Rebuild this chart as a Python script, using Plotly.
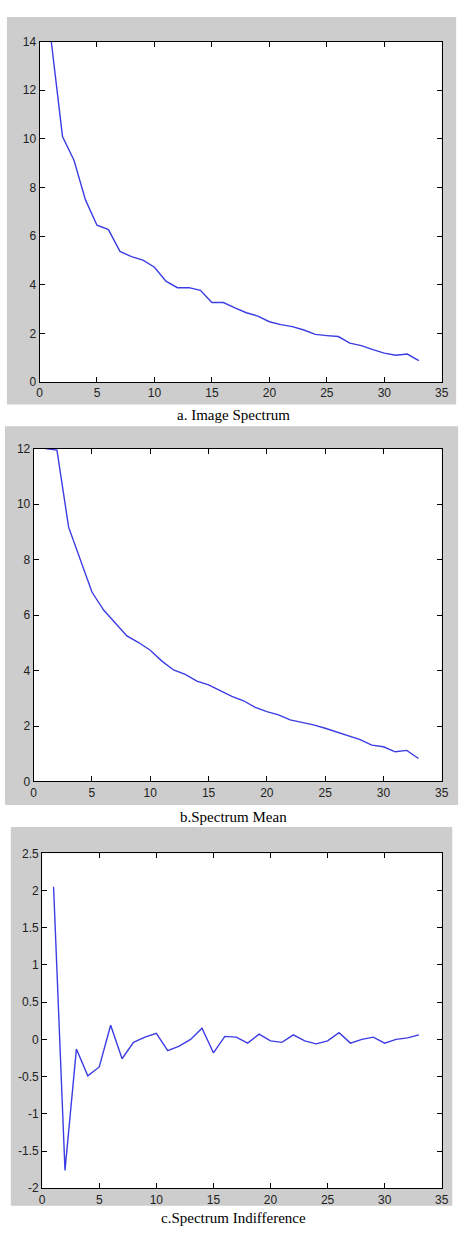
import plotly.graph_objects as go

# ---- data ----
x_idx = list(range(1, 34))

image_spectrum = [14.1, 10.1, 9.12, 7.49, 6.45, 6.27, 5.37, 5.16, 5.01, 4.72,
                  4.15, 3.88, 3.88, 3.77, 3.27, 3.27, 3.05, 2.85, 2.71, 2.48,
                  2.36, 2.28, 2.14, 1.96, 1.91, 1.87, 1.60, 1.50, 1.33, 1.19,
                  1.10, 1.15, 0.88]

spectrum_mean = [12.0, 11.95, 9.17, 7.96, 6.83, 6.18, 5.70, 5.25, 5.01, 4.73,
                 4.34, 4.02, 3.86, 3.62, 3.48, 3.27, 3.07, 2.91, 2.67, 2.52,
                 2.40, 2.22, 2.14, 2.04, 1.92, 1.78, 1.63, 1.51, 1.31, 1.25,
                 1.07, 1.12, 0.83]

spectrum_indiff = [2.05, -1.76, -0.13, -0.49, -0.37, 0.19, -0.26, -0.04, 0.03, 0.08,
                   -0.15, -0.09, 0.0, 0.15, -0.18, 0.04, 0.03, -0.05, 0.07, -0.02,
                   -0.04, 0.06, -0.02, -0.06, -0.02, 0.09, -0.05, 0.0, 0.03, -0.05,
                   0.0, 0.02, 0.06]

x_ticks = [0, 5, 10, 15, 20, 25, 30, 35]
y1_ticks = [0, 2, 4, 6, 8, 10, 12, 14]
y2_ticks = [0, 2, 4, 6, 8, 10, 12]
y3_ticks = [-2, -1.5, -1, -0.5, 0, 0.5, 1, 1.5, 2, 2.5]
y3_ticktext = ["-2", "-1.5", "-1", "-0.5", "0", "0.5", "1", "1.5", "2", "2.5"]

captions = ["a. Image Spectrum", "b.Spectrum Mean", "c.Spectrum Indifference"]

# ---- layout geometry (pixels) ----
W, H = 471, 1242
def px(x):
    return x / W
def py(y):
    return 1 - y / H

LINE = "rgb(60,60,228)"
GRAY = "#cdcdcd"

fig = go.Figure()
fig.add_trace(go.Scatter(x=x_idx, y=image_spectrum, mode="lines",
                         line=dict(color=LINE, width=1.4), xaxis="x", yaxis="y"))
fig.add_trace(go.Scatter(x=x_idx, y=spectrum_mean, mode="lines",
                         line=dict(color=LINE, width=1.4), xaxis="x2", yaxis="y2"))
fig.add_trace(go.Scatter(x=x_idx, y=spectrum_indiff, mode="lines",
                         line=dict(color=LINE, width=1.4), xaxis="x3", yaxis="y3"))

tickfont = dict(family="Liberation Sans, Arial, sans-serif", size=12, color="#222")
common = dict(showline=True, linecolor="black", linewidth=1, mirror="ticks",
              ticks="inside", ticklen=5, tickwidth=1, tickcolor="black",
              showgrid=False, zeroline=False, tickfont=tickfont, fixedrange=True)

panels = [
    # plot-area px: x0, x1, y_top, y_bottom ; gray px: x0, x1, y0, y1 ; caption y
    dict(area=(37.3, 448.3, 35, 379.3), gray=(4, 463, 10, 402), cap=413),
    dict(area=(31.3, 448.3, 446.7, 783.3), gray=(2, 465, 424, 807), cap=819),
    dict(area=(40, 448.3, 856, 1194.7), gray=(8, 459, 829.3, 1212.3), cap=1225),
]

yranges = [[0, 14], [0, 12], [-2, 2.5]]
yticks = [(y1_ticks, [str(v) for v in y1_ticks]),
          (y2_ticks, [str(v) for v in y2_ticks]),
          (y3_ticks, y3_ticktext)]

layout = dict(width=W, height=H, margin=dict(l=0, r=0, t=0, b=0),
              paper_bgcolor="white", plot_bgcolor="white", showlegend=False)
shapes = []
annotations = []
for i, p in enumerate(panels):
    sfx = "" if i == 0 else str(i + 1)
    ax0, ax1, ayt, ayb = p["area"]
    layout["xaxis" + sfx] = dict(common, domain=[px(ax0), px(ax1)], range=[0, 35],
                                 tickvals=x_ticks, ticktext=[str(v) for v in x_ticks],
                                 anchor="y" + sfx)
    layout["yaxis" + sfx] = dict(common, domain=[py(ayb), py(ayt)], range=yranges[i],
                                 tickvals=yticks[i][0], ticktext=yticks[i][1],
                                 anchor="x" + sfx)
    g0, g1, gy0, gy1 = p["gray"]
    shapes.append(dict(type="rect", xref="paper", yref="paper",
                       x0=px(g0), x1=px(g1), y0=py(gy1), y1=py(gy0),
                       fillcolor=GRAY, line=dict(width=0), layer="below"))
    shapes.append(dict(type="rect", xref="x" + sfx + " domain", yref="y" + sfx + " domain",
                       x0=0, x1=1, y0=0, y1=1,
                       fillcolor="white", line=dict(width=0), layer="below"))
    annotations.append(dict(text=captions[i], xref="paper", yref="paper",
                            x=0.5, y=py(p["cap"]), xanchor="center", yanchor="middle",
                            showarrow=False,
                            font=dict(family="Liberation Serif, Times New Roman, serif",
                                      size=15, color="black")))

layout["shapes"] = shapes
layout["annotations"] = annotations
fig.update_layout(**layout)

fig.write_html("out.html")
